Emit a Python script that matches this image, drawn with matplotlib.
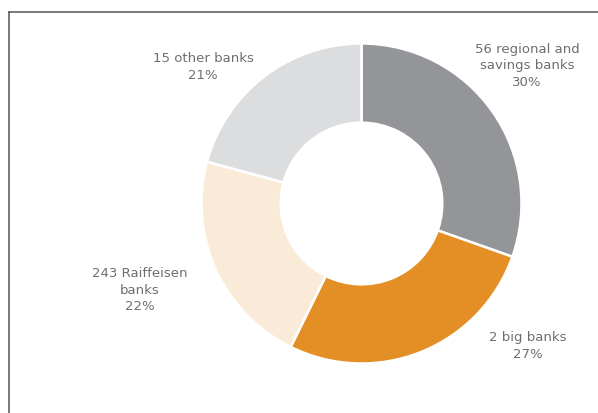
import matplotlib
matplotlib.use("Agg")
import matplotlib.pyplot as plt
from matplotlib.lines import Line2D

categories = ["56 regional and\nsavings banks", "2 big banks", "243 Raiffeisen\nbanks", "15 other banks"]
shares = [30.4, 26.9, 21.9, 20.8]
colors = ["#939598", "#E38F25", "#FAEBD8", "#DCDDDF"]

W, H = 598, 414
fig = plt.figure(figsize=(W / 100, H / 100), dpi=100)
fig.patch.set_facecolor("white")
ax = fig.add_axes([0, 0, 1, 1])

cx, cy, R = 361.5, H - 204.5, 160
ax.pie(shares, colors=colors, startangle=90, counterclock=False,
       center=(cx, cy), radius=R, frame=True,
       wedgeprops=dict(width=R * 0.495, edgecolor="white", linewidth=1.8))
ax.set_xlim(0, W)
ax.set_ylim(0, H)
ax.set_aspect("equal")
ax.axis("off")

label_pos = [(527, 66), (528, 346), (140, 290), (203, 67)]
for cat, val, (x, y) in zip(categories, shares, label_pos):
    ax.text(x, H - y, f"{cat}\n{val:.0f}%", ha="center", va="center",
            fontsize=9.5, color="#6E6E6E", linespacing=1.32,
            family="DejaVu Sans")

# frame
fig.add_artist(Line2D([8.5 / W, 8.5 / W], [0, 1 - 12.5 / H], transform=fig.transFigure,
                      color="#555555", lw=1.1))
fig.add_artist(Line2D([8.5 / W, 1], [1 - 12.5 / H, 1 - 12.5 / H], transform=fig.transFigure,
                      color="#555555", lw=1.1))

fig.savefig("out.png", dpi=100)
